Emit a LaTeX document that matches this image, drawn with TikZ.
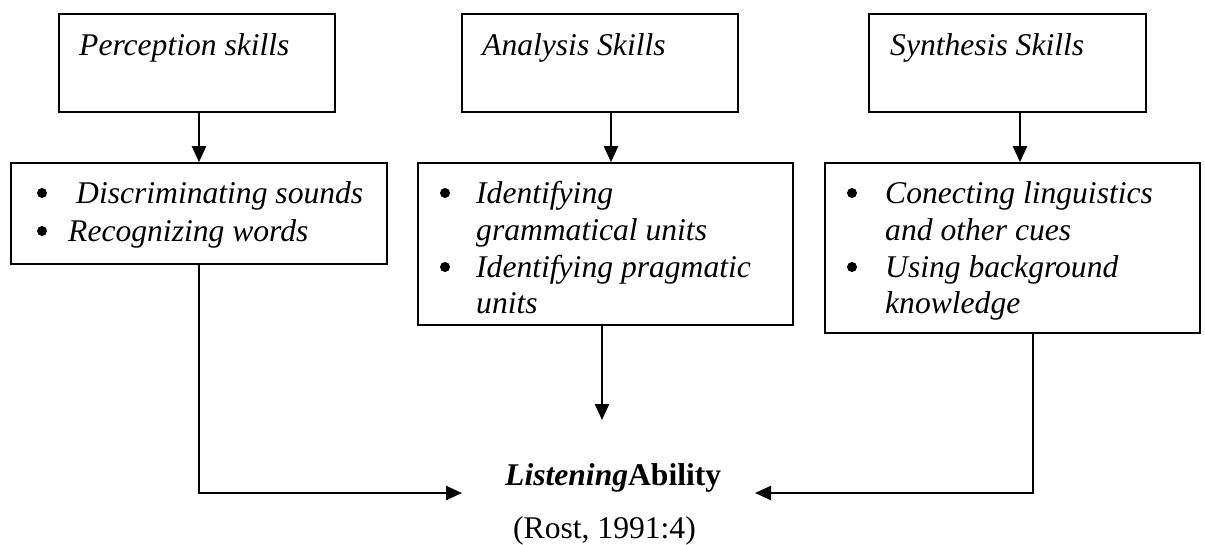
\documentclass[tikz,border=0pt]{standalone}
\usepackage{fontspec}
\setmainfont{Liberation Serif}
\usetikzlibrary{arrows.meta}
\tikzset{
  box/.style={draw=black, line width=1.6pt, rectangle, inner sep=0pt},
  txt/.style={anchor=base west, inner sep=0pt, font=\fontsize{31.6}{37}\selectfont\itshape},
  plain/.style={anchor=base west, inner sep=0pt, font=\fontsize{31.6}{37}\selectfont},
  bul/.style={circle, fill=black, inner sep=0pt, minimum size=10pt},
  conn/.style={line width=2.3pt, -{Triangle[length=16pt,width=14pt]}}
}
\begin{document}
\begin{tikzpicture}[x=1pt,y=-1pt]
\useasboundingbox (0,0) rectangle (1205,544);
% top boxes
\node[box, minimum width=276pt, minimum height=98pt] (p1) at (197,63) {};
\node[box, minimum width=276pt, minimum height=98pt] (p2) at (600,63) {};
\node[box, minimum width=277pt, minimum height=98pt] (p3) at (1007.5,63) {};
\node[txt] (t1) at (79,55) {Perception skills};
\node[txt] (t2) at (482,55) {Analysis Skills};
\node[txt] (t3) at (890,55) {Synthesis Skills};
% bottom boxes
\node[box, minimum width=376pt, minimum height=101pt] (b1) at (199,213.5) {};
\node[box, minimum width=375pt, minimum height=162pt] (b2) at (605.5,244) {};
\node[box, minimum width=375pt, minimum height=170pt] (b3) at (1012.5,248) {};
% box 1 text
\node[bul] (u11) at (42,193) {};
\node[bul] (u12) at (42,231) {};
\node[txt] (s11) at (76,203) {Discriminating sounds};
\node[txt] (s12) at (68,241) {Recognizing words};
% box 2 text
\node[bul] (u21) at (445,193) {};
\node[bul] (u22) at (445,267) {};
\node[txt] (s21) at (476,203) {Identifying};
\node[txt] (s22) at (476,240) {grammatical units};
\node[txt] (s23) at (476,277) {Identifying pragmatic};
\node[txt] (s24) at (476,313) {units};
% box 3 text
\node[bul] (u31) at (852,193) {};
\node[bul] (u32) at (852,267) {};
\node[txt] (s31) at (885,203) {Conecting linguistics};
\node[txt] (s32) at (885,240) {and other cues};
\node[txt] (s33) at (885,277) {Using background};
\node[txt] (s34) at (885,313) {knowledge};
% result
\node[plain] (la) at (505,485) {\textbf{\textit{Listening}}\textbf{Ability}};
\node[plain] (rost) at (513,538) {(Rost, 1991:4)};
% coordinates
\coordinate (x1) at (199,0);
\coordinate (x2) at (611,0);
\coordinate (x3) at (1020,0);
\coordinate (xl) at (199,493);
\coordinate (xm) at (602,0);
\coordinate (xr) at (1033,493);
\coordinate (lt) at (462,493);
\coordinate (mt) at (602,420);
\coordinate (rt) at (755,493);
% connectors
\draw[conn] (x1 |- p1.south) -- (x1 |- b1.north);
\draw[conn] (x2 |- p2.south) -- (x2 |- b2.north);
\draw[conn] (x3 |- p3.south) -- (x3 |- b3.north);
\draw[conn] (xl |- b1.south) -- (xl) -- (lt);
\draw[conn] (xm |- b2.south) -- (mt);
\draw[conn] (xr |- b3.south) -- (xr) -- (rt);
\end{tikzpicture}
\end{document}
